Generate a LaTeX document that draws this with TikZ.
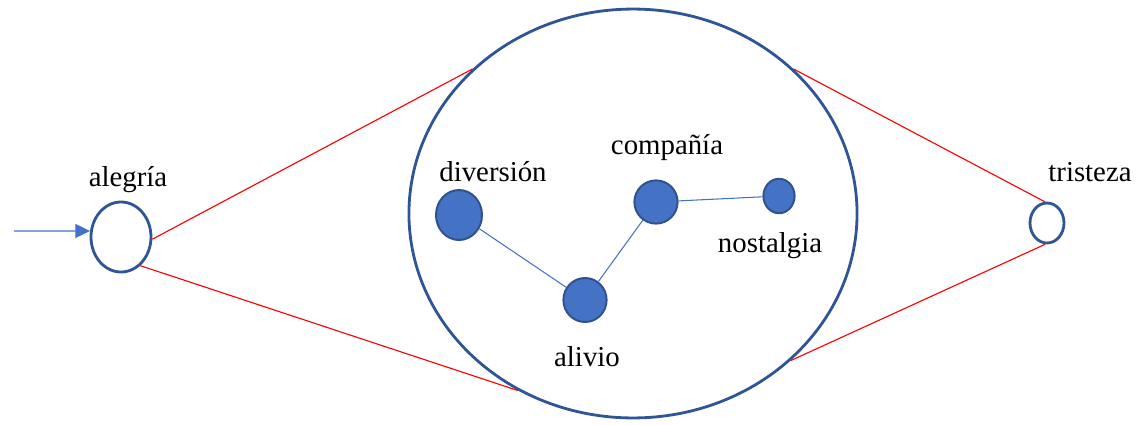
\documentclass[tikz,border=0pt]{standalone}
\usepackage{fontspec}
\setmainfont{Liberation Serif}
\newfontfamily\labelfont{Liberation Serif}
\usetikzlibrary{arrows.meta,shapes.geometric}
\definecolor{ringblue}{HTML}{2F5597}
\definecolor{dotblue}{HTML}{4472C4}
\definecolor{dotedge}{HTML}{2F528F}

\begin{document}
\begin{tikzpicture}[x=0.025cm,y=0.025cm,
  ring/.style={draw=ringblue,line width=2pt,ellipse,inner sep=0pt},
  dot/.style={draw=dotedge,fill=dotblue,line width=1.4pt,ellipse,inner sep=0pt},
  link/.style={draw=dotblue,line width=0.75pt},
  zoomline/.style={draw=red,line width=0.8pt},
  lbl/.style={inner sep=0pt,font=\labelfont\fontsize{20.5}{24}\selectfont}]
  \useasboundingbox (0,0) rectangle (1139,424);
  % states
  \node[ring,minimum width=1.5cm,minimum height=1.75cm] (alegria) at (121,187) {};
  \node[ring,minimum width=11.2cm,minimum height=10.22cm] (tema) at (633,210.5) {};
  \node[ring,minimum width=0.85cm,minimum height=1cm] (tristeza) at (1047,201) {};
  \node[lbl] (alegriaTxt) at (128,244) {alegría};
  \node[lbl] (tristezaTxt) at (1090,252) {tristeza};
  % incoming arrow
  \coordinate (start) at (14,193);
  \draw[dotblue,line width=0.9pt,-{Triangle[length=10.5pt,width=10pt]}] (start) -- (alegria.169);
  % zoom lines
  \draw[zoomline] (alegria.356) -- (tema.138);
  \draw[zoomline] (alegria.304) -- (tema.237);
  \draw[zoomline] (tema.42) -- (tristeza.96);
  \draw[zoomline] (tema.317) -- (tristeza.265);
  % inner graph
  \node[dot,minimum width=1.15cm,minimum height=1.25cm] (diversion) at (459,209) {};
  \node[dot,minimum width=1.08cm,minimum height=1.1cm] (alivio) at (585,124) {};
  \node[dot,minimum width=1.08cm,minimum height=1.08cm] (compania) at (656,222) {};
  \node[dot,minimum width=0.78cm,minimum height=0.86cm] (nostalgia) at (779,228) {};
  \node[lbl] (diversionTxt) at (493,252) {diversión};
  \node[lbl] (alivioTxt) at (587,67) {alivio};
  \node[lbl] (companiaTxt) at (667,276) {compañía};
  \node[lbl] (nostalgiaTxt) at (770,178) {nostalgia};
  \draw[link] (diversion) -- (alivio);
  \draw[link] (alivio) -- (compania);
  \draw[link] (compania) -- (nostalgia);
\end{tikzpicture}
\end{document}
